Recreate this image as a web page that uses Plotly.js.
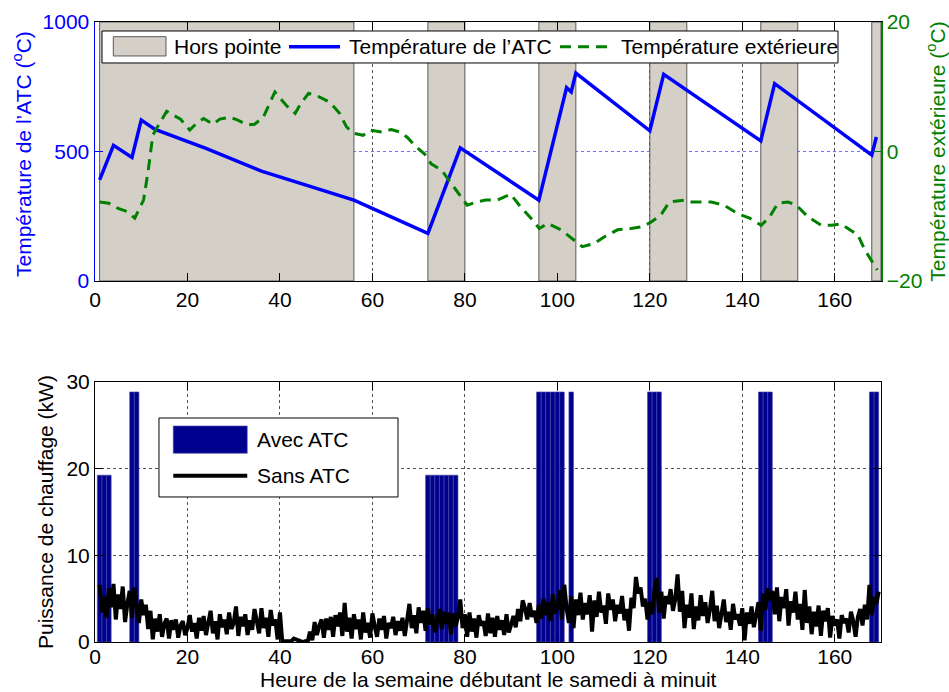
<!DOCTYPE html>
<html>
<head>
<meta charset="utf-8">
<script src="https://cdn.plot.ly/plotly-3.0.1.min.js"></script>
<style>
  html, body { margin: 0; padding: 0; background: #fff; }
  #chart { width: 949px; height: 692px; }
</style>
</head>
<body>
<div id="chart"></div>
<script>
// ---- ATC core temperature (left axis, °C), hours since Saturday midnight ----
const atcHours = [1, 4, 8, 10, 13, 24, 36, 46, 56, 72, 79, 96, 102, 103, 104, 120, 123, 144, 147, 168, 169];
const atcTemp  = [390, 524, 477, 621, 585, 512, 424, 368, 312, 184, 514, 312, 747, 730, 803, 580, 798, 541, 762, 486, 556];

// ---- Outdoor temperature (right axis, °C) ----
const outHours = [1, 3, 5, 7, 8.6, 10.5, 11.5, 12.5, 13.5, 15.5, 17, 18.5, 20.5, 22, 23.5, 25.5, 27, 29.2, 31, 33,
  34.5, 36.4, 38.9, 41.4, 43.3, 44.5, 46.2, 48.6, 50.8, 52.9, 54.4, 56, 58, 59.5, 62, 64.1, 66, 67.5, 69.5, 71.3,
  72.7, 75, 76.7, 79.2, 80.5, 82.5, 84.5, 87, 89.9, 92, 94.3, 96.1, 97.9, 100.8, 103.6, 105.4, 108, 110.1, 113, 115.9,
  118.4, 120.3, 122.4, 124.2, 127.5, 129, 133.3, 136.1, 139, 141.6, 144.1, 145.9, 147.7, 149.9, 151.7, 154.2, 157.1, 159.3, 161.4, 162.9,
  165, 166.5, 167.9, 169.2];
const outTemp = [-7.8, -8.0, -8.8, -9.3, -10.3, -7.5, -3.0, 2.5, 3.8, 6.2, 5.6, 5.0, 3.3, 4.4, 5.1, 4.2, 5.0, 5.3, 4.8, 4.1,
  4.2, 5.3, 9.2, 7.1, 5.9, 7.4, 9.0, 8.4, 7.6, 5.9, 3.8, 2.8, 2.5, 3.3, 3.0, 3.4, 3.0, 2.2, 0.7, -0.4,
  -1.9, -2.9, -4.6, -7.0, -8.3, -7.8, -7.5, -7.5, -6.6, -8.5, -10.3, -11.9, -11.1, -12.1, -13.7, -14.7, -14.2, -13.2, -12.1, -11.9,
  -11.6, -10.9, -9.8, -7.8, -7.5, -7.8, -7.8, -8.3, -9.6, -10.3, -11.4, -10.1, -8.0, -7.8, -8.3, -10.1, -11.4, -11.4, -11.2, -11.9,
  -12.9, -15.2, -16.8, -18.3];

// ---- Off-peak windows ("Hors pointe") ----
const offPeakStart = [1, 72, 96, 120, 144, 168];
const offPeakEnd   = [56, 80, 104, 128, 152, 170];

// ---- Heating power with ATC: hourly charging (kW) ----
const atcChargeHours = [1, 2, 3, 8, 9, 72, 73, 74, 75, 76, 77, 78, 96, 97, 98, 99, 100, 101, 103, 120, 121, 122, 144, 145, 146, 168, 169];
const atcChargePower = [19.25, 19.25, 19.25, 28.85, 28.85, 19.25, 19.25, 19.25, 19.25, 19.25, 19.25, 19.25,
  28.85, 28.85, 28.85, 28.85, 28.85, 28.85, 28.85, 28.85, 28.85, 28.85, 28.85, 28.85, 28.85, 28.85, 28.85];

// ---- Heating power without ATC: half-hourly samples (kW) from hour 1 ----
const baseStartHour = 1;
const baseStepHours = 0.5;
const baseLoad = [
  6.6, 3.4, 5.2, 2.8, 6.2, 4.0, 6.7, 2.6, 5.5, 3.8,
  6.4, 2.3, 4.4, 5.9, 2.8, 6.3, 4.2, 2.2, 4.9, 3.1,
  4.3, 1.5, 3.6, 0.3, 2.7, 1.2, 3.2, 0.6, 2.1, 2.7,
  0.4, 2.5, 1.4, 2.6, 0.5, 1.9, 2.4, 0.8, 1.6, 3.1,
  1.2, 2.2, 0.4, 2.8, 1.3, 3.0, 0.8, 2.1, 3.6, 1.0,
  2.4, 0.3, 3.2, 1.7, 2.6, 0.9, 3.4, 1.5, 2.2, 4.1,
  0.7, 2.9, 1.8, 3.2, 0.8, 2.5, 1.4, 3.8, 2.1, 1.0,
  3.9, 1.6, 2.8, 0.6, 3.7, 1.9, 2.6, 0.3, 3.4, 0.1,
  0.1, 0.1, 0.0, 0.1, 0.4, 0.3, 0.1, 0.0, 0.0, 0.1,
  0.0, 1.2, 0.2, 2.3, 0.8, 1.9, 2.6, 0.5, 2.7, 1.4,
  2.9, 0.6, 3.1, 1.8, 3.4, 0.7, 4.5, 1.2, 2.8, 0.4,
  3.2, 1.5, 2.6, 0.3, 3.4, 1.1, 2.2, 0.5, 3.3, 1.8,
  0.6, 2.7, 1.4, 3.0, 0.4, 2.2, 1.6, 2.9, 0.8, 2.4,
  1.3, 2.8, 0.7, 2.5, 4.4, 1.6, 3.1, 1.0, 4.0, 2.2,
  3.6, 1.3, 3.9, 2.0, 3.2, 1.1, 2.6, 3.8, 1.5, 3.5,
  2.1, 3.4, 0.9, 3.3, 1.8, 2.9, 4.9, 1.6, 3.2, 0.6,
  3.4, 1.2, 2.7, 0.5, 3.1, 1.9, 2.4, 0.7, 3.3, 1.0,
  2.8, 0.6, 3.0, 1.4, 2.5, 0.8, 3.2, 1.1, 2.0, 3.0,
  1.7, 3.8, 2.4, 4.8, 3.9, 2.6, 4.5, 2.9, 3.6, 2.2,
  4.3, 2.7, 5.0, 3.1, 4.6, 2.4, 5.5, 3.3, 4.0, 6.0,
  2.6, 6.6, 3.9, 2.2, 5.3, 1.6, 4.9, 3.1, 5.7, 2.6,
  4.5, 3.2, 5.4, 1.2, 4.8, 2.9, 5.8, 3.4, 4.2, 2.1,
  5.6, 3.7, 4.9, 2.4, 4.3, 3.3, 5.3, 2.5, 3.8, 1.3,
  5.1, 3.9, 7.5, 5.6, 6.3, 4.1, 5.0, 2.6, 4.6, 3.2,
  6.0, 7.4, 3.4, 5.8, 2.7, 5.3, 4.4, 6.1, 3.6, 4.9,
  7.8, 3.5, 5.9, 1.6, 4.3, 2.8, 5.6, 1.5, 4.1, 2.5,
  5.4, 3.0, 4.6, 2.2, 3.8, 5.9, 2.4, 4.2, 1.6, 3.6,
  4.9, 2.3, 3.5, 1.4, 4.4, 2.6, 3.2, 1.9, 3.9, 0.2,
  3.4, 2.1, 4.1, 1.7, 3.0, 4.6, 1.3, 5.6, 3.7, 6.2,
  4.8, 5.9, 3.2, 6.3, 2.4, 5.2, 3.9, 6.1, 1.9, 4.7,
  3.4, 5.8, 2.6, 4.4, 1.4, 6.0, 2.2, 4.1, 0.9, 3.5,
  1.8, 4.2, 0.7, 3.6, 2.4, 3.9, 0.5, 3.0, 1.9, 2.6,
  0.4, 3.1, 2.2, 2.7, 1.1, 3.5, 2.4, 0.6, 2.9, 3.8,
  1.9, 4.3, 2.6, 6.6, 3.1, 5.2, 4.4, 5.8
];

const xTickVals = [0, 20, 40, 60, 80, 100, 120, 140, 160];

// ---- styling ----
const FONT = 'Liberation Sans, Arial, Helvetica, sans-serif';
const FS = 21;
const BLUE = '#0000ff';
const GREEN = '#008000';
const NAVY = '#00008f';
const SHADE = '#d4d0c8';
const SHADE_EDGE = '#5a5a5a';
const TEMP_MAX = 1000;

const baseHours = baseLoad.map((_, i) => baseStartHour + i * baseStepHours);

const traces = [
  // Off-peak windows as full-height bands behind the temperature curves
  {
    type: 'bar', name: 'Hors pointe', xaxis: 'x', yaxis: 'y',
    x: offPeakStart.map((s, i) => (s + offPeakEnd[i]) / 2),
    width: offPeakStart.map((s, i) => offPeakEnd[i] - s),
    y: offPeakStart.map(() => TEMP_MAX), base: 0,
    marker: { color: SHADE, line: { color: SHADE_EDGE, width: 1 } }, hoverinfo: 'skip'
  },
  {
    type: 'scatter', mode: 'lines', name: "Température de l'ATC",
    x: atcHours, y: atcTemp, xaxis: 'x', yaxis: 'y',
    line: { color: BLUE, width: 3.5 }, hoverinfo: 'skip'
  },
  {
    type: 'scatter', mode: 'lines', name: 'Température extérieure',
    x: outHours, y: outTemp, xaxis: 'x', yaxis: 'y2',
    line: { color: GREEN, width: 3, dash: '11px,7px' }, hoverinfo: 'skip'
  },
  {
    type: 'bar', name: 'Avec ATC',
    x: atcChargeHours, y: atcChargePower, xaxis: 'x2', yaxis: 'y3',
    width: 1,
    marker: { color: NAVY, line: { color: '#4a4aa8', width: 0.6 } }, hoverinfo: 'skip'
  },
  {
    type: 'scatter', mode: 'lines', name: 'Sans ATC',
    x: baseHours, y: baseLoad, xaxis: 'x2', yaxis: 'y3',
    line: { color: '#000', width: 4 }, hoverinfo: 'skip'
  }
];

// Legend boxes, drawn in paper coordinates
const shapes = [
  { type: 'rect', xref: 'paper', yref: 'paper', x0: 0.0089, x1: 0.9453, y0: 0.9339, y1: 0.9855,
    fillcolor: '#fff', line: { color: '#000', width: 1 }, layer: 'above' },
  { type: 'rect', xref: 'paper', yref: 'paper', x0: 0.0233, x1: 0.0903, y0: 0.9452, y1: 0.9763,
    fillcolor: SHADE, line: { color: SHADE_EDGE, width: 1 }, layer: 'above' },
  { type: 'line', xref: 'paper', yref: 'paper', x0: 0.2468, x1: 0.3117, y0: 0.9602, y1: 0.9602,
    line: { color: BLUE, width: 3.5 }, layer: 'above' },
  { type: 'line', xref: 'paper', yref: 'paper', x0: 0.5916, x1: 0.6590, y0: 0.9602, y1: 0.9602,
    line: { color: GREEN, width: 3, dash: '11px,7px' }, layer: 'above' },
  { type: 'rect', xref: 'paper', yref: 'paper', x0: 0.0814, x1: 0.3855, y0: 0.2339, y1: 0.3613,
    fillcolor: '#fff', line: { color: '#000', width: 1 }, layer: 'above' },
  { type: 'rect', xref: 'paper', yref: 'paper', x0: 0.0996, x1: 0.1937, y0: 0.3044, y1: 0.3484,
    fillcolor: NAVY, line: { color: '#4a4aa8', width: 0.6 }, layer: 'above' },
  { type: 'line', xref: 'paper', yref: 'paper', x0: 0.0996, x1: 0.1937, y0: 0.2682, y1: 0.2682,
    line: { color: '#000', width: 4 }, layer: 'above' }
];

const legendText = (text, x, y) => ({
  text, xref: 'paper', yref: 'paper', x, y, xanchor: 'left', yanchor: 'middle',
  showarrow: false, font: { family: FONT, size: FS, color: '#000' }
});

const annotations = [
  legendText('Hors pointe', 0.0975, 0.9602),
  legendText('Température de l’ATC', 0.3202, 0.9602),
  legendText('Température extérieure', 0.6667, 0.9602),
  legendText('Avec ATC', 0.2036, 0.3263),
  legendText('Sans ATC', 0.2036, 0.2682),
  // axis titles placed by hand
  { text: 'Température de l’ATC (<sup>o</sup>C)', xref: 'paper', yref: 'paper', x: -0.0929, y: 0.787,
    xanchor: 'center', yanchor: 'middle', textangle: -90, showarrow: false,
    font: { family: FONT, size: FS, color: BLUE } },
  { text: 'Puissance de chauffage (kW)', xref: 'paper', yref: 'paper', x: -0.0623, y: 0.2097,
    xanchor: 'center', yanchor: 'middle', textangle: -90, showarrow: false,
    font: { family: FONT, size: FS, color: '#000' } },
  { text: 'Heure de la semaine débutant le samedi à minuit', xref: 'paper', yref: 'paper', x: 0.5, y: -0.0806,
    xanchor: 'center', yanchor: 'bottom', showarrow: false, borderpad: 0,
    font: { family: FONT, size: FS, color: '#000' } }
];

const commonX = {
  range: [0, 170], tickvals: xTickVals, ticks: 'inside', ticklen: 8, tickcolor: '#000',
  showline: true, linecolor: '#000', linewidth: 1, mirror: 'ticks',
  showgrid: true, gridcolor: '#555', griddash: 'dot', gridwidth: 1, zeroline: false,
  tickfont: { family: FONT, size: FS, color: '#000' }
};

const layout = {
  width: 949, height: 692,
  margin: { l: 95, r: 68, t: 22, b: 50 },
  paper_bgcolor: '#fff', plot_bgcolor: '#fff',
  font: { family: FONT, size: FS, color: '#000' },
  showlegend: false,
  bargap: 0,
  xaxis: Object.assign({}, commonX, { domain: [0, 1], anchor: 'y' }),
  yaxis: {
    domain: [0.5823, 1], anchor: 'x', range: [0, TEMP_MAX], tickvals: [0, 500, 1000],
    ticks: 'inside', ticklen: 8, tickcolor: BLUE, showline: true, linecolor: BLUE, linewidth: 1.5,
    showgrid: true, gridcolor: '#7070ff', griddash: 'dot', zeroline: false,
    tickfont: { family: FONT, size: FS, color: BLUE }
  },
  yaxis2: {
    overlaying: 'y', side: 'right', anchor: 'x', range: [-20, 20], tickvals: [-20, 0, 20],
    ticks: 'inside', ticklen: 8, tickcolor: GREEN, showline: true, linecolor: GREEN, linewidth: 1.5,
    showgrid: false, zeroline: false,
    tickfont: { family: FONT, size: FS, color: GREEN },
    title: { text: 'Température extérieure (<sup>o</sup>C)', font: { family: FONT, size: FS, color: GREEN } }
  },
  xaxis2: Object.assign({}, commonX, { domain: [0, 1], anchor: 'y3', ticklabelstandoff: -4 }),
  yaxis3: {
    domain: [0, 0.4194], anchor: 'x2', range: [0, 30], tickvals: [0, 10, 20, 30],
    ticks: 'inside', ticklen: 8, tickcolor: '#000', showline: true, linecolor: '#000', mirror: 'ticks',
    showgrid: true, gridcolor: '#555', griddash: 'dot', zeroline: false,
    tickfont: { family: FONT, size: FS, color: '#000' }
  },
  shapes,
  annotations
};

Plotly.newPlot('chart', traces, layout, { staticPlot: true, displayModeBar: false });
</script>
</body>
</html>
